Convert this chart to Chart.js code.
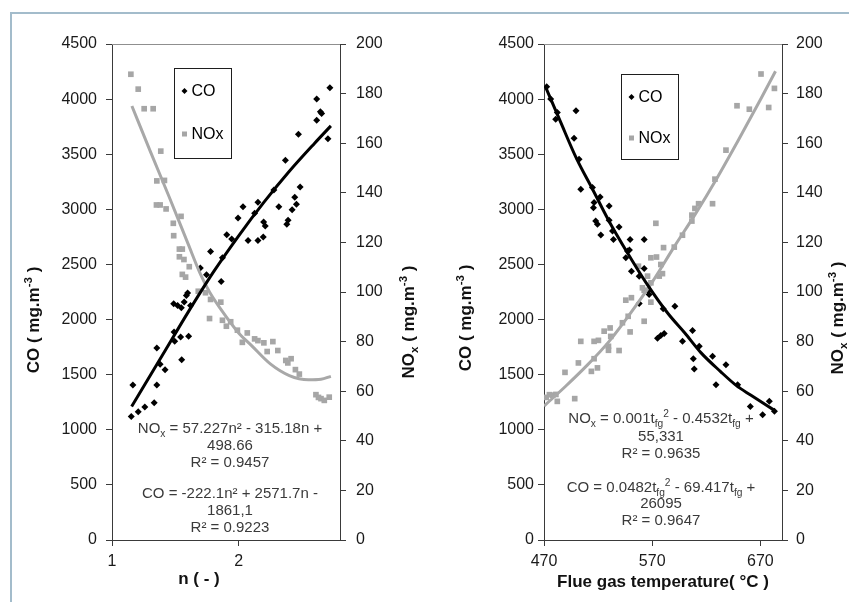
<!DOCTYPE html>
<html>
<head>
<meta charset="utf-8">
<script src="https://cdn.jsdelivr.net/npm/chart.js@4.4.1/dist/chart.umd.min.js"></script>
<style>
  html, body { margin: 0; padding: 0; background: #fff; }
  #page { position: relative; width: 849px; height: 602px; overflow: hidden; }
  #frame { position: absolute; left: 10px; top: 12px; width: 900px; height: 700px;
           border-left: 2px solid #a3bccb; border-top: 2px solid #a3bccb; }
  canvas { position: absolute; top: 0; }
  #left { left: 0; }
  #right { left: 425px; }
</style>
</head>
<body>
<div id="page">
  <div id="frame"></div>
  <canvas id="left" width="425" height="602"></canvas>
  <canvas id="right" width="424" height="602"></canvas>
</div>
<script>
const FONT = '"Liberation Sans", Arial, sans-serif';

const seriesNames = ["CO", "NOx"];

// axis ticks
const coTicks = [0, 500, 1000, 1500, 2000, 2500, 3000, 3500, 4000, 4500];
const noxTicks = [0, 20, 40, 60, 80, 100, 120, 140, 160, 180, 200];
const nTicks = [1, 2];
const tTicks = [470, 570, 670];

// CO and NOx against excess air ratio n
const nCo = [2.72, 2.616, 2.645, 2.655, 2.616, 2.705, 2.472, 2.369, 2.485, 2.443, 2.456, 2.422, 2.39, 2.38,
  2.317, 2.278, 2.152, 2.034, 2.126, 2.197, 2.21, 2.194, 2.152, 2.074, 1.995, 1.906, 1.945, 1.778, 1.872,
  1.697, 1.746, 1.862, 1.597, 1.587, 1.487, 1.547, 1.62, 1.518, 1.57, 1.49, 1.542, 1.605, 1.495, 1.354,
  1.55, 1.38, 1.419, 1.165, 1.354, 1.333, 1.259, 1.207, 1.152];
const coVsN = [4103, 4000, 3885, 3870, 3809, 3640, 3682, 3445, 3203, 3109, 3045, 2997, 2900, 2864,
  3024, 3176, 3064, 3024, 2964, 2885, 2848, 2748, 2718, 2718, 2921, 2770, 2730, 2618, 2561,
  2467, 2406, 2345, 2242, 2218, 2143, 2106, 2127, 2127, 2160, 1888, 1842, 1848, 1803, 1742,
  1636, 1594, 1545, 1406, 1406, 1245, 1206, 1164, 1121];
const nNox = [1.149, 1.207, 1.254, 1.325, 1.385, 1.354, 1.414, 1.351, 1.38, 1.427, 1.545, 1.484, 1.487,
  1.532, 1.555, 1.532, 1.568, 1.61, 1.555, 1.581, 1.681, 1.738, 1.778, 1.859, 1.77, 1.872, 1.937, 1.903,
  1.99, 2.068, 2.029, 2.126, 2.152, 2.199, 2.27, 2.225, 2.309, 2.414, 2.388, 2.372, 2.448, 2.479, 2.61,
  2.65, 2.715, 2.676, 2.63];
const noxVsN = [187.8, 181.8, 173.9, 173.9, 156.8, 144.8, 145, 135.1, 135.1, 133.5, 130.5, 127.7, 122.7,
  117.3, 117.3, 114.2, 113.1, 110.2, 107.1, 106, 100.3, 99.7, 97, 95.9, 89.3, 88.6, 88, 86.2,
  84.6, 83.5, 79.7, 81.1, 80.4, 79.5, 80, 76, 76.4, 73.1, 71.4, 72.4, 68.7, 66.9, 58.6,
  57, 57.6, 56.3, 57.5];
const nCoTrend = [1.155, 1.4, 1.6, 1.8, 2.0, 2.2, 2.4, 2.6, 2.728];
const coTrendN = [1212, 1680, 2065, 2430, 2760, 3065, 3345, 3600, 3757];
const nNoxTrend = [1.157, 1.3, 1.45, 1.6, 1.7, 1.77, 1.86, 2.0, 2.1, 2.25, 2.4, 2.55, 2.65, 2.728];
const noxTrendN = [175, 157, 138.5, 119.5, 107, 100, 93, 83.5, 78.5, 71, 66.3, 64.6, 64.8, 66];

// CO and NOx against flue gas temperature
const tCo = [472.5, 476.2, 482.3, 480.8, 499.6, 497.8, 502.4, 504, 514.8, 516.3, 515.7, 521.9, 517.8,
  519.4, 530.2, 530.2, 522.5, 533.3, 539.4, 534.2, 549.6, 562.6, 547.2, 549, 545.6, 550.8, 562.6, 558,
  566.3, 558, 567.2, 591, 580.2, 574.9, 578, 581.1, 607.3, 613.5, 598, 608, 608.9, 625.8, 638.2, 629,
  649, 660.7, 672.1, 678.3, 683];
const coVsT = [4112, 4000, 3879, 3818, 3894, 3645, 3455, 3182, 3197, 3061, 3015, 3112, 2894,
  2864, 3030, 2900, 2767, 2803, 2839, 2727, 2727, 2727, 2621, 2630, 2561, 2439, 2464, 2394,
  2258, 2145, 2227, 2121, 2097, 1830, 1855, 1873, 1900, 1758, 1803, 1645, 1552, 1667, 1591, 1409,
  1409, 1212, 1136, 1258, 1167];
const tNox = [670.6, 683, 677.7, 648.4, 659.8, 638.2, 628, 625.8, 612.9, 609.5, 606.7, 606.7, 573.4,
  598, 590.4, 580.5, 568.8, 574, 557.3, 578, 579.5, 565.7, 576.5, 561, 568.8, 562.6, 568.8, 545.6,
  550.8, 562.6, 549.6, 547.8, 542.5, 531.1, 525.6, 531.7, 520.3, 516.3, 504, 529.6, 539.4, 529.6,
  516.3, 519.4, 513.8, 501.8, 489.4, 475, 478, 481, 482.3, 498.4, 472];
const noxVsT = [187.9, 182.1, 174.4, 175.1, 173.7, 157.2, 145.5, 135.6, 135.6, 133.7, 131, 128.6, 127.7,
  122.9, 118.1, 117.9, 113.8, 114.1, 110.4, 111.1, 107.4, 106.4, 106.4, 101.7, 103.7, 100.7, 95.9, 96.7,
  97.7, 88.2, 83.9, 90.2, 87.6, 85.5, 84.2, 82.1, 80.5, 80.1, 80.1, 78.1, 76.4, 76.5,
  73.1, 69.4, 68, 71.4, 67.6, 58.6, 58.4, 58.7, 55.9, 57, 57.5];
const tCoTrend = [471.6, 485, 500, 515, 530, 545, 566, 585, 600, 615, 633, 648, 661, 683];
const coTrendT = [4106, 3800, 3462, 3180, 2895, 2641, 2310, 2050, 1880, 1700, 1530, 1400, 1315, 1176];
const tNoxTrend = [470, 490, 510, 530, 550, 570, 590, 610, 630, 650, 670, 684];
const noxTrendT = [54, 62, 70.5, 80, 91.5, 104, 118, 131.5, 146, 161.5, 177.5, 189];

const pts = (xs, ys) => xs.map((x, i) => ({ x: x, y: ys[i] }));

function drawRich(ctx, parts, cx, cy, size, weight, color) {
  const small = size * 0.68;
  const fontFor = p => weight + " " + (p[1] ? small : size) + "px " + FONT;
  let total = 0;
  parts.forEach(p => {
    ctx.font = fontFor(p);
    total += ctx.measureText(p[0]).width;
  });
  let x = cx - total / 2;
  const base = cy + size * 0.36;
  ctx.fillStyle = color;
  ctx.textAlign = "left";
  ctx.textBaseline = "alphabetic";
  parts.forEach(p => {
    ctx.font = fontFor(p);
    let y = base;
    if (p[1] === "sub") y += size * 0.22;
    if (p[1] === "sup") y -= size * 0.42;
    ctx.fillText(p[0], x, y);
    x += ctx.measureText(p[0]).width;
  });
}

// frame edge, legend box, fit equations and axis titles
function decorPlugin(d) {
  return {
    id: "decor",
    afterDraw(chart) {
      const ctx = chart.ctx;
      const a = chart.chartArea;
      ctx.save();
      ctx.strokeStyle = "#8f8f8f";
      ctx.lineWidth = 1;
      ctx.beginPath();
      ctx.moveTo(a.left, a.top + 0.5);
      ctx.lineTo(a.right, a.top + 0.5);
      ctx.stroke();

      const b = d.box;
      ctx.strokeStyle = "#1e1e1e";
      ctx.strokeRect(b.x + 0.5, b.y + 0.5, b.w, b.h);
      const mx = b.x + 10.5;
      const y1 = b.y + 23;
      const y2 = b.y + d.gap;
      ctx.fillStyle = "#000";
      ctx.beginPath();
      ctx.moveTo(mx, y1 - 3);
      ctx.lineTo(mx + 3, y1);
      ctx.lineTo(mx, y1 + 3);
      ctx.lineTo(mx - 3, y1);
      ctx.closePath();
      ctx.fill();
      ctx.fillStyle = "#a6a6a6";
      ctx.fillRect(mx - 2.5, y2 - 2.5, 5, 5);
      ctx.fillStyle = "#000";
      ctx.font = "16px " + FONT;
      ctx.textAlign = "left";
      ctx.textBaseline = "middle";
      ctx.fillText(chart.data.datasets[0].label, mx + 7, y1 + 1);
      ctx.fillText(chart.data.datasets[1].label, mx + 7, y2 + 1);

      d.equations.forEach((line, i) => {
        drawRich(ctx, line, d.eqX, d.eqY[i], 15, "normal", "#3a3a3a");
      });

      drawRich(ctx, d.xTitle, d.xTitlePos[0], d.xTitlePos[1], 17, "bold", "#111");
      [[d.yTitle, d.yTitlePos], [d.y1Title, d.y1TitlePos]].forEach(t => {
        ctx.save();
        ctx.translate(t[1][0], t[1][1]);
        ctx.rotate(-Math.PI / 2);
        drawRich(ctx, t[0], 0, 0, 17, "bold", "#111");
        ctx.restore();
      });
      ctx.restore();
    }
  };
}

function yAxis(ticksArr, max, side, width, pad) {
  return {
    type: "linear",
    position: side,
    min: 0,
    max: max,
    afterBuildTicks: s => { s.ticks = ticksArr.map(v => ({ value: v })); },
    afterFit: s => { s.width = width; },
    ticks: { callback: v => String(v), color: "#1a1a1a", font: { family: FONT, size: 16 }, padding: pad },
    grid: { drawOnChartArea: false, tickLength: 6, color: "#3a3a3a", tickColor: "#3a3a3a" },
    border: { display: true, color: "#3a3a3a", width: 1 }
  };
}

function buildChart(id, s) {
  const dataCo = pts(s.co[0], s.co[1]);
  const dataNox = pts(s.nox[0], s.nox[1]);
  return new Chart(document.getElementById(id), {
    type: "scatter",
    data: {
      datasets: [
        { label: seriesNames[0], data: dataCo, yAxisID: "y", order: 2,
          pointStyle: "rectRot", pointRadius: 3.5, backgroundColor: "#000", borderColor: "#000", borderWidth: 0 },
        { label: seriesNames[1], data: dataNox, yAxisID: "y1", order: 3,
          pointStyle: "rect", pointRadius: 4, backgroundColor: "#a6a6a6", borderColor: "#a6a6a6", borderWidth: 0 },
        { label: "CO trend", data: pts(s.coFit[0], s.coFit[1]), yAxisID: "y", order: 0,
          showLine: true, pointRadius: 0, borderColor: "#000", borderWidth: 3, cubicInterpolationMode: "monotone" },
        { label: "NOx trend", data: pts(s.noxFit[0], s.noxFit[1]), yAxisID: "y1", order: 1,
          showLine: true, pointRadius: 0, borderColor: "#a8a8a8", borderWidth: 3, cubicInterpolationMode: "monotone" }
      ]
    },
    options: {
      responsive: false,
      animation: false,
      devicePixelRatio: 1,
      layout: { padding: { top: 44, left: 0, right: 0, bottom: 0 } },
      plugins: { legend: { display: false }, tooltip: { enabled: false } },
      scales: {
        x: {
          type: "linear",
          position: "bottom",
          min: s.xMin,
          max: s.xMax,
          afterBuildTicks: sc => { sc.ticks = s.xTicks.map(v => ({ value: v })); },
          afterFit: sc => { sc.height = 62; },
          ticks: { callback: v => String(v), maxRotation: 0, color: "#1a1a1a", font: { family: FONT, size: 16 }, padding: 6 },
          grid: { drawOnChartArea: false, tickLength: 6, color: "#3a3a3a", tickColor: "#3a3a3a" },
          border: { display: true, color: "#3a3a3a", width: 1 }
        },
        y: yAxis(coTicks, 4500, "left", s.yWidth, s.yPad),
        y1: yAxis(noxTicks, 200, "right", s.y1Width, s.y1Pad)
      }
    },
    plugins: [decorPlugin(s.decor)]
  });
}

const coTitle = [["CO ( mg.m", ""], ["-3", "sup"], [" )", ""]];
const noxTitle = [["NO", ""], ["x", "sub"], [" ( mg.m", ""], ["-3", "sup"], [" )", ""]];

buildChart("left", {
  xMin: 1, xMax: 2.8, xTicks: nTicks,
  co: [nCo, coVsN], nox: [nNox, noxVsN],
  coFit: [nCoTrend, coTrendN], noxFit: [nNoxTrend, noxTrendN],
  yWidth: 112, yPad: 9, y1Width: 85, y1Pad: 10,
  decor: {
    box: { x: 174, y: 68, w: 57, h: 90 }, gap: 66,
    eqX: 230, eqY: [428, 445, 462, 493, 510, 527],
    equations: [
      [["NO", ""], ["x", "sub"], [" = 57.227n² - 315.18n +", ""]],
      [["498.66", ""]],
      [["R² = 0.9457", ""]],
      [["CO = -222.1n² + 2571.7n -", ""]],
      [["1861,1", ""]],
      [["R² = 0.9223", ""]]
    ],
    xTitle: [["n ( - )", ""]], xTitlePos: [199, 578],
    yTitle: coTitle, yTitlePos: [33, 320],
    y1Title: noxTitle, y1TitlePos: [408, 322]
  }
});

buildChart("right", {
  xMin: 470, xMax: 690, xTicks: tTicks,
  co: [tCo, coVsT], nox: [tNox, noxVsT],
  coFit: [tCoTrend, coTrendT], noxFit: [tNoxTrend, noxTrendT],
  yWidth: 119, yPad: 4, y1Width: 67, y1Pad: 8,
  decor: {
    box: { x: 196, y: 74, w: 57, h: 85 }, gap: 64,
    eqX: 236, eqY: [418, 436, 453, 487, 503, 520],
    equations: [
      [["NO", ""], ["x", "sub"], [" = 0.001t", ""], ["fg", "sub"], ["2", "sup"], [" - 0.4532t", ""], ["fg", "sub"], [" +", ""]],
      [["55,331", ""]],
      [["R² = 0.9635", ""]],
      [["CO = 0.0482t", ""], ["fg", "sub"], ["2", "sup"], [" - 69.417t", ""], ["fg", "sub"], [" +", ""]],
      [["26095", ""]],
      [["R² = 0.9647", ""]]
    ],
    xTitle: [["Flue gas temperature( °C )", ""]], xTitlePos: [238, 581],
    yTitle: coTitle, yTitlePos: [40, 318],
    y1Title: noxTitle, y1TitlePos: [412, 318]
  }
});
</script>
</body>
</html>
